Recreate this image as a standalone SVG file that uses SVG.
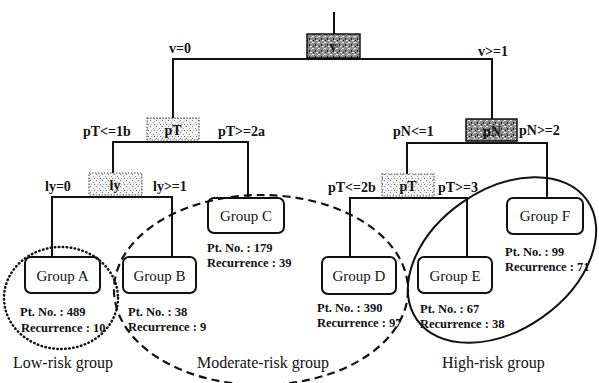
<svg xmlns="http://www.w3.org/2000/svg" width="599" height="383" viewBox="0 0 599 383">
<defs>
<pattern id="dark" width="6" height="6" patternUnits="userSpaceOnUse">
<rect width="6" height="6" fill="#8a8a8a"/>
<rect x="0" y="0" width="2" height="1" fill="#ffffff"/>
<rect x="3" y="2" width="1" height="2" fill="#222"/>
<rect x="4" y="4" width="2" height="1" fill="#eeeeee"/>
<rect x="1" y="4" width="1" height="1" fill="#111"/>
<rect x="5" y="1" width="1" height="1" fill="#cccccc"/>
</pattern>
<pattern id="light" width="6" height="6" patternUnits="userSpaceOnUse">
<rect width="6" height="6" fill="#f4f4f4"/>
<rect x="0" y="0" width="1" height="1" fill="#777"/>
<rect x="3" y="2" width="1" height="1" fill="#999"/>
<rect x="4" y="4" width="1" height="1" fill="#666"/>
<rect x="1" y="4" width="1" height="1" fill="#aaa"/>
</pattern>
<style>
text{font-family:'Liberation Serif','DejaVu Serif','Times New Roman',serif;fill:#111}
.c{fill:none;stroke:#111;stroke-width:2}
.dk{fill:url(#dark);stroke:#111;stroke-width:1.5}
.lt{fill:url(#light);stroke:#555;stroke-width:1.2;stroke-dasharray:1.5 1.5}
.g{fill:#fff;stroke:#111;stroke-width:2}
.lbl{font-weight:bold;font-size:14px}
.bt{font-weight:bold;font-size:14px;text-anchor:middle}
.gt{font-size:15px;text-anchor:middle}
.info{font-weight:bold;font-size:12.5px}
.risk{font-size:16px}
</style>
</defs>
<g id="connectors">
<path class="c" d="M334,12 V34"/>
<path class="c" d="M173,118 V59 H492 V119"/>
<path class="c" d="M113,173 V142 H248 V198"/>
<path class="c" d="M52,257 V197 H172 V257"/>
<path class="c" d="M407,174 V143 H547 V198"/>
<path class="c" d="M350,257 V198 H467 V257"/>
</g>
<g id="split-v"><rect class="dk" x="307" y="34" width="53" height="24"/><text class="bt" x="333" y="51">v</text></g>
<g id="split-pT1"><rect class="lt" x="147" y="118" width="52" height="22"/><text class="bt" x="173" y="135">pT</text></g>
<g id="split-ly"><rect class="lt" x="89" y="173" width="53" height="22"/><text class="bt" x="115" y="190">ly</text></g>
<g id="split-pN"><rect class="dk" x="466" y="119" width="51" height="22"/><text class="bt" x="492" y="136">pN</text></g>
<g id="split-pT2"><rect class="lt" x="382" y="174" width="52" height="22"/><text class="bt" x="408" y="191">pT</text></g>
<g id="edge-labels">
<text class="lbl" x="169" y="53">v=0</text>
<text class="lbl" x="478" y="56">v&gt;=1</text>
<text class="lbl" x="83" y="136">pT&lt;=1b</text>
<text class="lbl" x="218" y="136">pT&gt;=2a</text>
<text class="lbl" x="45" y="191">ly=0</text>
<text class="lbl" x="153" y="191">ly&gt;=1</text>
<text class="lbl" x="393" y="136">pN&lt;=1</text>
<text class="lbl" x="519" y="135">pN&gt;=2</text>
<text class="lbl" x="328" y="192">pT&lt;=2b</text>
<text class="lbl" x="438" y="192">pT&gt;=3</text>
</g>
<g id="groupA"><rect class="g" x="25" y="257" width="75" height="36" rx="6"/><text class="gt" x="62.5" y="281">Group A</text>
<text class="info" x="20" y="316">Pt. No. : 489</text><text class="info" x="21" y="332">Recurrence : 10</text></g>
<g id="groupB"><rect class="g" x="123" y="257" width="73" height="36" rx="6"/><text class="gt" x="159.5" y="281">Group B</text>
<text class="info" x="128" y="316">Pt. No. : 38</text><text class="info" x="128" y="331">Recurrence : 9</text></g>
<g id="groupC"><rect class="g" x="208" y="198" width="76" height="35" rx="6"/><text class="gt" x="246" y="221">Group C</text>
<text class="info" x="207" y="252">Pt. No. : 179</text><text class="info" x="207" y="267">Recurrence : 39</text></g>
<g id="groupD"><rect class="g" x="322" y="257" width="74" height="37" rx="6"/><text class="gt" x="359" y="281">Group D</text>
<text class="info" x="317" y="312">Pt. No. : 390</text><text class="info" x="317" y="327">Recurrence : 97</text></g>
<g id="groupE"><rect class="g" x="418" y="257" width="74" height="36" rx="6"/><text class="gt" x="455" y="281">Group E</text>
<text class="info" x="420" y="313">Pt. No. : 67</text><text class="info" x="420" y="328">Recurrence : 38</text></g>
<g id="groupF"><rect class="g" x="507" y="198" width="76" height="36" rx="6"/><text class="gt" x="545" y="221">Group F</text>
<text class="info" x="505" y="256">Pt. No. : 99</text><text class="info" x="505" y="271">Recurrence : 71</text></g>
<g id="risk-groups">
<ellipse cx="61" cy="298" rx="57" ry="51" fill="none" stroke="#111" stroke-width="2.5" stroke-dasharray="0.5 3.5" stroke-linecap="round"/>
<ellipse cx="261" cy="290" rx="147" ry="95" fill="none" stroke="#111" stroke-width="2.2" stroke-dasharray="8 5"/>
<ellipse cx="502" cy="260" rx="104" ry="70" transform="rotate(-35 502 260)" fill="none" stroke="#111" stroke-width="2"/>
<text class="risk" x="13" y="368">Low-risk group</text>
<text class="risk" x="197" y="368">Moderate-risk group</text>
<text class="risk" x="442" y="368">High-risk group</text>
</g>
</svg>
